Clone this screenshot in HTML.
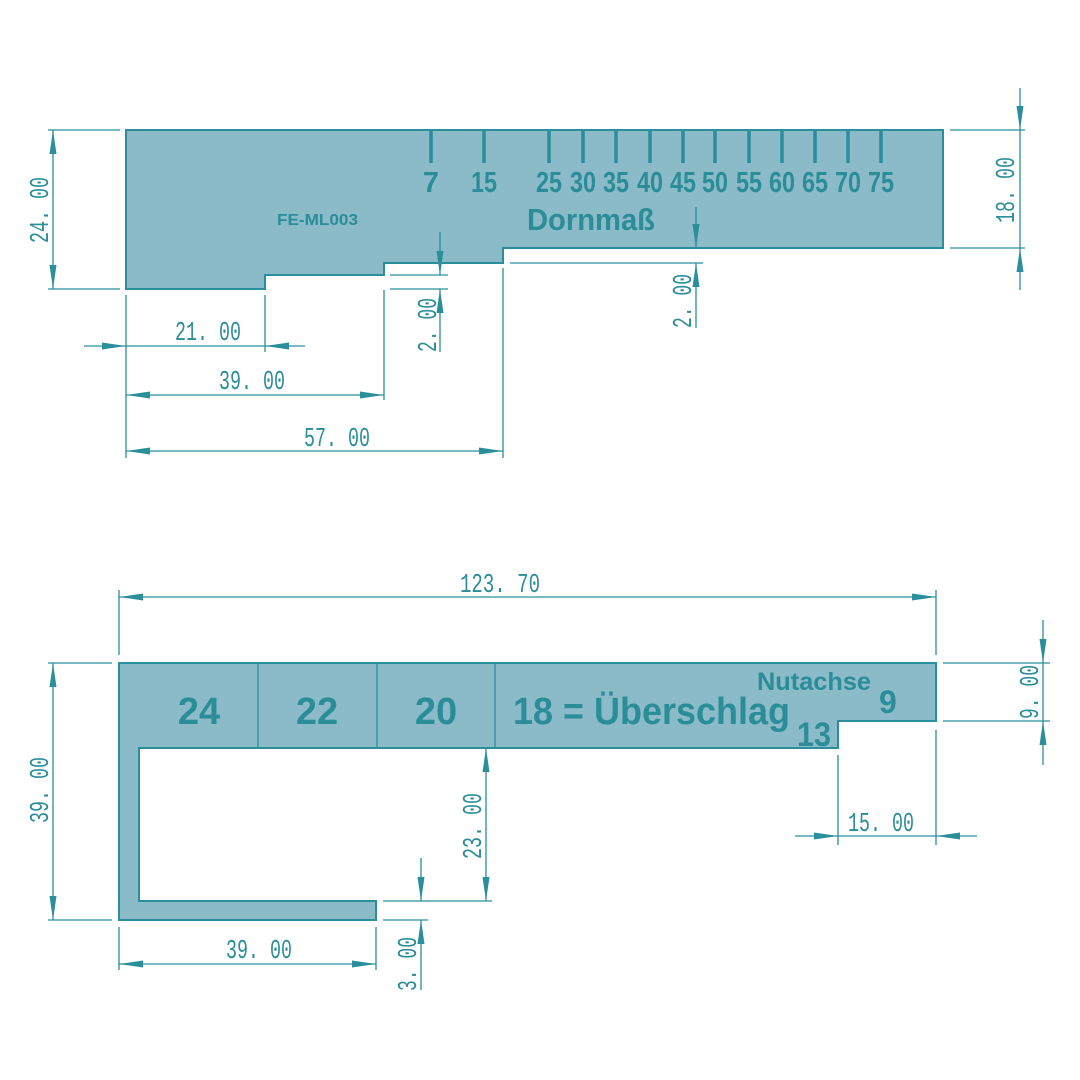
<!DOCTYPE html>
<html><head><meta charset="utf-8"><style>html,body{margin:0;padding:0;background:#fff}svg{display:block}</style></head>
<body>
<svg width="1080" height="1080" viewBox="0 0 1080 1080" xmlns="http://www.w3.org/2000/svg">
<defs>
<marker id="a" viewBox="0 0 24 10" refX="24" refY="5" markerWidth="24" markerHeight="10" markerUnits="userSpaceOnUse" orient="auto-start-reverse">
<path d="M0,1.5 L24,5 L0,8.5 z" fill="#2a8f9a"/></marker>
</defs>
<g fill="#8bbac8" stroke="#2a8f9a" stroke-width="2">
<polygon points="126,130 943,130 943,248 503,248 503,263 384,263 384,275 265,275 265,289 126,289"/>
<polygon points="119,663 936,663 936,721 838,721 838,748 139,748 139,901 376,901 376,920 119,920"/>
</g>
<g stroke="#2a8f9a" stroke-width="1.3">
<line x1="258" y1="663" x2="258" y2="748"/><line x1="377" y1="663" x2="377" y2="748"/><line x1="495" y1="663" x2="495" y2="748"/>
</g>
<g stroke="#2a8f9a" stroke-width="3.5">
<line x1="431" y1="131" x2="431" y2="163"/><line x1="484" y1="131" x2="484" y2="163"/>
<line x1="549" y1="131" x2="549" y2="163"/><line x1="583" y1="131" x2="583" y2="163"/>
<line x1="616" y1="131" x2="616" y2="163"/><line x1="650" y1="131" x2="650" y2="163"/>
<line x1="683" y1="131" x2="683" y2="163"/><line x1="715" y1="131" x2="715" y2="163"/>
<line x1="749" y1="131" x2="749" y2="163"/><line x1="782" y1="131" x2="782" y2="163"/>
<line x1="815" y1="131" x2="815" y2="163"/><line x1="848" y1="131" x2="848" y2="163"/>
<line x1="881" y1="131" x2="881" y2="163"/>
</g>
<g fill="#2a8d98" font-family="'Liberation Sans',sans-serif" font-weight="bold" font-size="29" text-anchor="middle">
<text x="431" y="192">7</text>
<text x="484" y="192" textLength="26" lengthAdjust="spacingAndGlyphs">15</text>
<text x="549" y="192" textLength="26" lengthAdjust="spacingAndGlyphs">25</text>
<text x="583" y="192" textLength="26" lengthAdjust="spacingAndGlyphs">30</text>
<text x="616" y="192" textLength="26" lengthAdjust="spacingAndGlyphs">35</text>
<text x="650" y="192" textLength="26" lengthAdjust="spacingAndGlyphs">40</text>
<text x="683" y="192" textLength="26" lengthAdjust="spacingAndGlyphs">45</text>
<text x="715" y="192" textLength="26" lengthAdjust="spacingAndGlyphs">50</text>
<text x="749" y="192" textLength="26" lengthAdjust="spacingAndGlyphs">55</text>
<text x="782" y="192" textLength="26" lengthAdjust="spacingAndGlyphs">60</text>
<text x="815" y="192" textLength="26" lengthAdjust="spacingAndGlyphs">65</text>
<text x="848" y="192" textLength="26" lengthAdjust="spacingAndGlyphs">70</text>
<text x="881" y="192" textLength="26" lengthAdjust="spacingAndGlyphs">75</text>
</g>
<g fill="#2a8d98" font-family="'Liberation Sans',sans-serif" font-weight="bold">
<text x="527" y="230" font-size="31" textLength="128" lengthAdjust="spacingAndGlyphs">Dornmaß</text>
<text x="277" y="225" font-size="16" textLength="81" lengthAdjust="spacingAndGlyphs">FE-ML003</text>
<text x="199" y="724" font-size="38" text-anchor="middle">24</text>
<text x="317" y="724" font-size="38" text-anchor="middle">22</text>
<text x="436" y="724" font-size="38" text-anchor="middle">20</text>
<text x="513" y="724" font-size="38" textLength="277" lengthAdjust="spacingAndGlyphs">18 = Überschlag</text>
<text x="797" y="746" font-size="34" textLength="34" lengthAdjust="spacingAndGlyphs">13</text>
<text x="757" y="690" font-size="25" textLength="114" lengthAdjust="spacingAndGlyphs">Nutachse</text>
<text x="879" y="713" font-size="32">9</text>
</g>
<g stroke="#2a8f9a" stroke-width="1.3" fill="none">
<line x1="48" y1="130" x2="120" y2="130"/><line x1="48" y1="289" x2="120" y2="289"/>
<line x1="950" y1="130" x2="1025" y2="130"/><line x1="950" y1="248" x2="1025" y2="248"/>
<line x1="510" y1="263" x2="703" y2="263"/>
<line x1="390" y1="275" x2="448" y2="275"/><line x1="390" y1="289" x2="448" y2="289"/>
<line x1="126" y1="295" x2="126" y2="458"/><line x1="265" y1="295" x2="265" y2="352"/>
<line x1="384" y1="290" x2="384" y2="400"/><line x1="503" y1="268" x2="503" y2="458"/>
<line x1="53" y1="130" x2="53" y2="289" marker-start="url(#a)" marker-end="url(#a)"/>
<line x1="1020" y1="88" x2="1020" y2="130" marker-end="url(#a)"/>
<line x1="1020" y1="290" x2="1020" y2="248" marker-end="url(#a)"/>
<line x1="1020" y1="130" x2="1020" y2="248"/>
<line x1="440" y1="232" x2="440" y2="275" marker-end="url(#a)"/>
<line x1="440" y1="352" x2="440" y2="289" marker-end="url(#a)"/>
<line x1="696" y1="207" x2="696" y2="248" marker-end="url(#a)"/>
<line x1="696" y1="328" x2="696" y2="263" marker-end="url(#a)"/>
<line x1="84" y1="346" x2="126" y2="346" marker-end="url(#a)"/>
<line x1="305" y1="346" x2="265" y2="346" marker-end="url(#a)"/>
<line x1="126" y1="346" x2="265" y2="346"/>
<line x1="126" y1="395" x2="384" y2="395" marker-start="url(#a)" marker-end="url(#a)"/>
<line x1="126" y1="451" x2="503" y2="451" marker-start="url(#a)" marker-end="url(#a)"/>
<line x1="119" y1="590" x2="119" y2="655"/><line x1="936" y1="590" x2="936" y2="655"/>
<line x1="48" y1="663" x2="112" y2="663"/><line x1="48" y1="920" x2="112" y2="920"/>
<line x1="943" y1="663" x2="1050" y2="663"/><line x1="943" y1="721" x2="1050" y2="721"/>
<line x1="838" y1="755" x2="838" y2="845"/><line x1="936" y1="730" x2="936" y2="845"/>
<line x1="383" y1="901" x2="492" y2="901"/><line x1="383" y1="920" x2="428" y2="920"/>
<line x1="119" y1="927" x2="119" y2="970"/><line x1="376" y1="927" x2="376" y2="970"/>
<line x1="119" y1="597" x2="936" y2="597" marker-start="url(#a)" marker-end="url(#a)"/>
<line x1="53" y1="663" x2="53" y2="920" marker-start="url(#a)" marker-end="url(#a)"/>
<line x1="1043" y1="620" x2="1043" y2="663" marker-end="url(#a)"/>
<line x1="1043" y1="765" x2="1043" y2="721" marker-end="url(#a)"/>
<line x1="1043" y1="663" x2="1043" y2="721"/>
<line x1="795" y1="836" x2="838" y2="836" marker-end="url(#a)"/>
<line x1="977" y1="836" x2="936" y2="836" marker-end="url(#a)"/>
<line x1="838" y1="836" x2="936" y2="836"/>
<line x1="486" y1="748" x2="486" y2="901" marker-start="url(#a)" marker-end="url(#a)"/>
<line x1="421" y1="858" x2="421" y2="901" marker-end="url(#a)"/>
<line x1="421" y1="990" x2="421" y2="920" marker-end="url(#a)"/>
<line x1="119" y1="964" x2="376" y2="964" marker-start="url(#a)" marker-end="url(#a)"/>
</g>
<g fill="#2a8d98" font-family="'Liberation Mono','DejaVu Sans Mono',monospace" font-size="27" text-anchor="middle">
<text x="208" y="340" textLength="66" lengthAdjust="spacingAndGlyphs">21. 00</text>
<text x="252" y="389" textLength="66" lengthAdjust="spacingAndGlyphs">39. 00</text>
<text x="337" y="446" textLength="66" lengthAdjust="spacingAndGlyphs">57. 00</text>
<text transform="translate(48,210) rotate(-90)" textLength="66" lengthAdjust="spacingAndGlyphs">24. 00</text>
<text transform="translate(1014,190) rotate(-90)" textLength="66" lengthAdjust="spacingAndGlyphs">18. 00</text>
<text transform="translate(436,325) rotate(-90)" textLength="54" lengthAdjust="spacingAndGlyphs">2. 00</text>
<text transform="translate(691,301) rotate(-90)" textLength="54" lengthAdjust="spacingAndGlyphs">2. 00</text>
<text x="500" y="592" textLength="80" lengthAdjust="spacingAndGlyphs">123. 70</text>
<text transform="translate(48,790) rotate(-90)" textLength="66" lengthAdjust="spacingAndGlyphs">39. 00</text>
<text transform="translate(1038,692) rotate(-90)" textLength="54" lengthAdjust="spacingAndGlyphs">9. 00</text>
<text x="881" y="831" textLength="66" lengthAdjust="spacingAndGlyphs">15. 00</text>
<text transform="translate(481,826) rotate(-90)" textLength="66" lengthAdjust="spacingAndGlyphs">23. 00</text>
<text transform="translate(416,964) rotate(-90)" textLength="54" lengthAdjust="spacingAndGlyphs">3. 00</text>
<text x="259" y="958" textLength="66" lengthAdjust="spacingAndGlyphs">39. 00</text>
</g>
</svg>
</body></html>
